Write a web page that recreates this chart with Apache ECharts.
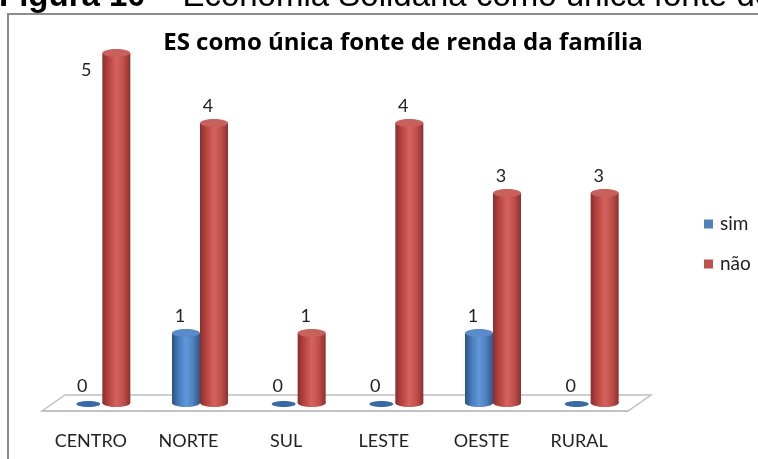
<!DOCTYPE html>
<html>
<head>
<meta charset="utf-8">
<script src="https://cdn.jsdelivr.net/npm/echarts@6/dist/echarts.min.js"></script>
<style>
  html, body { margin: 0; padding: 0; background: #fff; }
  #main { width: 758px; height: 459px; }
</style>
</head>
<body>
<div id="main"></div>
<script>
const categories = ['CENTRO', 'NORTE', 'SUL', 'LESTE', 'OESTE', 'RURAL']
const simValues = [0, 1, 0, 0, 1, 0]
const naoValues = [5, 4, 1, 4, 3, 3]
const seriesNames = ['sim', 'não']

// grid / fake 3d floor
const GRID_LEFT = 42
const GRID_RIGHT = 130
const AXIS_Y = 411
const DEPTH_X = 23
const DEPTH_Y = 16
const HALF_W = 14
const RY = 4

function vgrad (stops) {
  return {
    type: 'linear', x: 0, y: 0, x2: 1, y2: 0,
    colorStops: stops.map((c, i) => ({ offset: i / (stops.length - 1), color: c }))
  }
}

const looks = [
  { // sim
    body: vgrad(['#2c5283', '#4a7dbd', '#6098d8', '#4f82c0', '#2f5686']),
    top: '#5a8bc8',
    flat: '#3a6aa6'
  },
  { // não
    body: vgrad(['#8a2e2b', '#b94643', '#d5625e', '#c0504d', '#8d302d']),
    top: '#c8605c',
    flat: '#b04a47'
  }
]

function makeRender (s) {
  const side = s === 0 ? -1 : 1
  const look = looks[s]
  return function (params, api) {
    const i = api.value(0)
    const v = api.value(1)
    const base = api.coord([i, 0])
    const top = api.coord([i, v])
    const cx = base[0] + DEPTH_X / 2 + side * HALF_W
    const yb = base[1] - DEPTH_Y / 2
    const yt = top[1] - DEPTH_Y / 2
    const children = []
    if (v === 0) {
      children.push({
        type: 'ellipse',
        shape: { cx: cx, cy: yb + 1, rx: 12, ry: 3 },
        style: { fill: look.flat }
      })
    } else {
      children.push({
        type: 'ellipse',
        shape: { cx: cx, cy: yb, rx: HALF_W, ry: RY },
        style: { fill: look.body }
      })
      children.push({
        type: 'rect',
        shape: { x: cx - HALF_W, y: yt, width: HALF_W * 2, height: yb - yt },
        style: { fill: look.body }
      })
      children.push({
        type: 'ellipse',
        shape: { cx: cx, cy: yt, rx: HALF_W, ry: RY },
        style: { fill: look.top }
      })
    }
    // value label, pushed to the side when it would hit the title
    let lx = cx - 6
    let ly = yt - 17
    if (ly < 60) {
      lx = cx - 30
      ly = yt + 17
    }
    children.push({
      type: 'text',
      style: {
        text: String(v), x: lx, y: ly, align: 'center', verticalAlign: 'middle',
        font: '18px Lato', fill: '#222'
      }
    })
    return { type: 'group', children: children }
  }
}

const x1 = 758 - GRID_RIGHT

const option = {
  backgroundColor: '#fff',
  animation: false,
  graphic: [
    {
      type: 'rect',
      shape: { x: 8, y: 14, width: 800, height: 500 },
      style: { fill: null, stroke: '#8c8c8c', lineWidth: 2 },
      z: -10
    },
    {
      type: 'text',
      style: {
        text: '{b|Figura 10} – Economia Solidária como única fonte de',
        x: -1, y: -3, verticalAlign: 'middle',
        font: '33px "Liberation Sans"', fill: '#000',
        rich: { b: { font: 'bold 33px "Liberation Sans"', fill: '#000' } }
      }
    },
    {
      type: 'text',
      style: {
        text: 'ES como única fonte de renda da família',
        x: 403, y: 43, align: 'center', verticalAlign: 'middle',
        font: 'bold 24px "Open Sans"', fill: '#000'
      }
    },
    {
      type: 'polygon',
      shape: {
        points: [
          [GRID_LEFT, AXIS_Y],
          [GRID_LEFT + DEPTH_X, AXIS_Y - DEPTH_Y],
          [x1 + DEPTH_X, AXIS_Y - DEPTH_Y],
          [x1, AXIS_Y]
        ]
      },
      style: { fill: '#fff', stroke: '#bfbfbf', lineWidth: 1.5 },
      z: -5
    }
  ],
  legend: {
    data: seriesNames,
    orient: 'vertical',
    left: 699,
    top: 209,
    icon: 'rect',
    itemWidth: 9,
    itemHeight: 9,
    itemGap: 20,
    textStyle: { fontFamily: 'Lato', fontSize: 19, color: '#222', lineHeight: 20, padding: [0, 0, 0, 2] }
  },
  grid: {
    left: GRID_LEFT,
    right: GRID_RIGHT,
    bottom: 459 - AXIS_Y,
    top: AXIS_Y - 5.5 * 70
  },
  xAxis: {
    type: 'category',
    data: categories,
    axisLine: { lineStyle: { color: '#bfbfbf', width: 1.5 } },
    axisTick: { length: 8, lineStyle: { color: '#bfbfbf', width: 1.5 } },
    axisLabel: {
      fontFamily: 'Lato', fontSize: 18, color: '#222',
      verticalAlign: 'middle', margin: 30
    }
  },
  yAxis: {
    type: 'value',
    min: 0,
    max: 5.5,
    show: false,
    splitLine: { show: false }
  },
  series: [
    {
      name: seriesNames[0],
      type: 'custom',
      itemStyle: { color: '#4f81bd' },
      encode: { x: 0, y: 1 },
      renderItem: makeRender(0),
      clip: false,
      data: simValues.map((v, i) => [i, v])
    },
    {
      name: seriesNames[1],
      type: 'custom',
      itemStyle: { color: '#c0504d' },
      encode: { x: 0, y: 1 },
      renderItem: makeRender(1),
      clip: false,
      data: naoValues.map((v, i) => [i, v])
    }
  ]
}

const myChart = echarts.init(document.getElementById('main'))
myChart.setOption(option)
</script>
</body>
</html>
